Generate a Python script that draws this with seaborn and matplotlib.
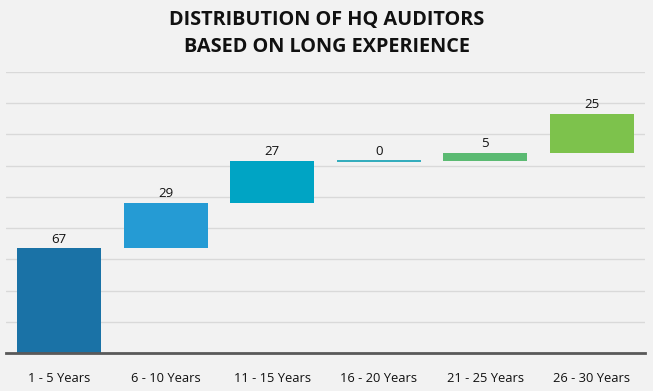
import matplotlib
matplotlib.use("Agg")
import matplotlib.pyplot as plt
import seaborn as sns
import numpy as np
import pandas as pd

categories = ["1 - 5 Years", "6 - 10 Years", "11 - 15 Years", "16 - 20 Years", "21 - 25 Years", "26 - 30 Years"]
values = [67, 29, 27, 0, 5, 25]
colors = ["#1A72A6", "#259BD4", "#00A4C4", "#21A6B8", "#5BBA72", "#7DC24C"]
title_lines = ["DISTRIBUTION OF HQ AUDITORS", "BASED ON LONG EXPERIENCE"]

bases = np.concatenate([[0], np.cumsum(values)[:-1]])
df = pd.DataFrame({"category": categories, "value": values, "base": bases})

sns.set_theme(style="white")
plt.rcParams["font.family"] = ["Open Sans", "DejaVu Sans"]

bg = "#F2F2F2"
fig = plt.figure(figsize=(6.53, 3.91), dpi=100, facecolor=bg)
ax = fig.add_axes([6 / 653, 1 - 353 / 391, 639 / 653, (353 - 72) / 391])
ax.set_facecolor(bg)

sns.barplot(data=df, x="category", y="value", hue="category", palette=colors,
            legend=False, width=0.79, ax=ax, saturation=1, zorder=3)

for patch, base, val, col in zip(ax.patches, bases, values, colors):
    patch.set_y(base)
    patch.set_linewidth(0)
    if val == 0:
        patch.set_edgecolor(col)
        patch.set_linewidth(1.3)
    cx = patch.get_x() + patch.get_width() / 2
    ax.annotate(str(val), (cx, base + val), xytext=(0, 2), textcoords="offset points",
                ha="center", va="bottom", fontsize=9.5, color="#111111")

ax.set_ylim(0, 180)
ax.set_xlim(-0.5, len(categories) - 0.5)
ax.set_yticks(np.arange(0, 181, 20))
ax.yaxis.grid(True, color="#D9D9D9", linewidth=1, zorder=0)
ax.set_axisbelow(True)
ax.tick_params(axis="y", left=False, labelleft=False)
ax.tick_params(axis="x", bottom=False, labelsize=9.3, labelcolor="#111111", pad=8)
for s in ["top", "right", "left"]:
    ax.spines[s].set_visible(False)
ax.spines["bottom"].set_color("#595959")
ax.spines["bottom"].set_linewidth(2)
ax.spines["bottom"].set_zorder(5)
ax.set_xlabel("")
ax.set_ylabel("")

fig.text(0.5, 1 - 20 / 391, title_lines[0], ha="center", va="center",
         fontsize=14.3, fontweight="bold", color="#111111")
fig.text(0.5, 1 - 47 / 391, title_lines[1], ha="center", va="center",
         fontsize=14.3, fontweight="bold", color="#111111")

fig.savefig("out.png", dpi=100, facecolor=bg)
